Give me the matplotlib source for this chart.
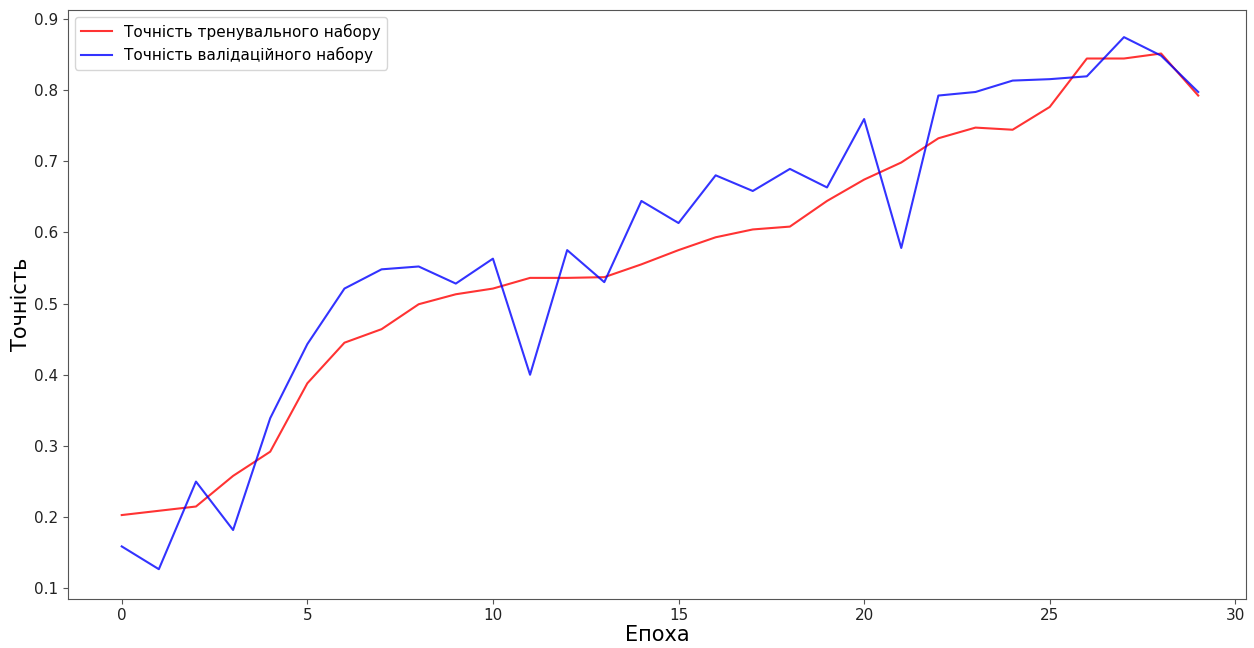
import numpy as np
import matplotlib
matplotlib.use('Agg')
import matplotlib.pyplot as plt

# accuracy per epoch
epochs = np.arange(0, 30)
train_acc = [0.203, 0.209, 0.215, 0.258, 0.292, 0.388, 0.445, 0.464, 0.499, 0.513,
             0.521, 0.536, 0.536, 0.537, 0.555, 0.575, 0.593, 0.604, 0.608, 0.644,
             0.674, 0.698, 0.732, 0.747, 0.744, 0.776, 0.844, 0.844, 0.851, 0.792]
val_acc = [0.159, 0.127, 0.250, 0.182, 0.339, 0.443, 0.521, 0.548, 0.552, 0.528,
           0.563, 0.400, 0.575, 0.530, 0.644, 0.613, 0.680, 0.658, 0.689, 0.663,
           0.759, 0.578, 0.792, 0.797, 0.813, 0.815, 0.819, 0.874, 0.848, 0.797]

fig, ax = plt.subplots(figsize=(12.54, 6.48), dpi=100)
fig.subplots_adjust(left=0.054, right=0.994, top=0.985, bottom=0.076)

ax.plot(epochs, train_acc, '-', color='red', alpha=0.8, linewidth=1.5,
        label='Точність тренувального набору')
ax.plot(epochs, val_acc, '-', color='blue', alpha=0.8, linewidth=1.5,
        label='Точність валідаційного набору')

ax.set_xlim(-1.455, 30.3)
ax.set_ylim(0.0855, 0.9125)
ax.set_xticks([0, 5, 10, 15, 20, 25, 30])
ax.set_yticks([0.1, 0.2, 0.3, 0.4, 0.5, 0.6, 0.7, 0.8, 0.9])
ax.tick_params(labelsize=11, color='#555555', labelcolor='#222222')
for s in ax.spines.values():
    s.set_color('#555555')

ax.set_xlabel('Епоха', fontsize=15, labelpad=1)
ax.set_ylabel('Точність', fontsize=15, labelpad=2)
ax.legend(loc='upper left', fontsize=11)

fig.savefig('out.png', dpi=100)
